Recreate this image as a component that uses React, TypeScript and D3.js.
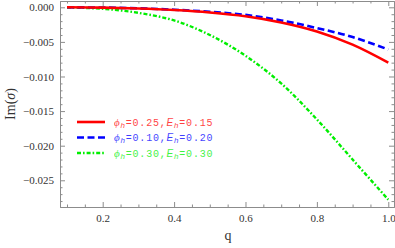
import * as d3 from "d3";
import React, { useRef, useEffect } from "react";

// sampled values of Im(sigma) against q
const qValues = [0.1, 0.2, 0.3, 0.4, 0.5, 0.6, 0.7, 0.8, 0.9, 1.0];
const redValues = [0, -0.00005, -0.00018, -0.0004, -0.00075, -0.0013, -0.0022, -0.0035, -0.0054, -0.008];
const blueValues = [0, -0.00004, -0.00015, -0.00035, -0.00065, -0.0011, -0.0019, -0.003, -0.0043, -0.0061];
const greenValues = [-0.00002, -0.00022, -0.0008, -0.0019, -0.004, -0.007, -0.011, -0.0162, -0.022, -0.0278];

const xTicks = [0.2, 0.4, 0.6, 0.8, 1.0];
const yTicks = [0, -0.005, -0.01, -0.015, -0.02, -0.025];

const legendPhi = ["0.25", "0.10", "0.30"];
const legendE = ["0.15", "0.20", "0.30"];

const App = () => {
  const svgRef = useRef<SVGSVGElement>(null);
  const w = 395;
  const h = 248;
  const left = 60, right = 394, top = 1, bottom = 207;

  useEffect(() => {
    const xScale = d3.scaleLinear().domain([0.0804, 1.016]).range([left, right]);
    const yScale = d3.scaleLinear().domain([0.00091, -0.02886]).range([top, bottom]);

    const svgEl = d3.select(svgRef.current);
    svgEl.selectAll("*").remove();
    const svg = svgEl.append("g");

    // frame axes, ticks point inward like Mathematica
    const xMinor = d3.range(0.1, 1.01, 0.05).map((d) => +d.toFixed(2)).filter((d) => !xTicks.some((t) => Math.abs(t - d) < 1e-6));
    const yMinor = d3.range(0, -0.0286, -0.001).map((d) => +d.toFixed(4)).filter((d) => !yTicks.some((t) => Math.abs(t - d) < 1e-7));
    const frameColor = "#8c8c8c";

    const addAxis = (axis: any, tx: number, ty: number, labels: boolean) => {
      const g = svg.append("g").attr("transform", `translate(${tx},${ty})`).call(axis);
      g.select(".domain").attr("stroke", frameColor).attr("stroke-width", 1);
      g.selectAll(".tick line").attr("stroke", frameColor);
      if (!labels) g.selectAll(".tick text").remove();
      return g;
    };

    const fmtX = (d: any) => d3.format(".1f")(d);
    const fmtY = (d: any) => (d === 0 ? "0.000" : "\u2212" + d3.format(".3f")(-d));

    // bottom
    const gb = addAxis(d3.axisBottom(xScale).tickValues(xTicks).tickFormat(fmtX).tickSize(-5).tickPadding(7), 0, bottom, true);
    gb.selectAll(".tick text").attr("font-family", "Liberation Serif").attr("font-size", 11).attr("fill", "#333");
    addAxis(d3.axisBottom(xScale).tickValues(xMinor).tickSize(-2.5).tickFormat(() => ""), 0, bottom, false).select(".domain").remove();
    // top
    addAxis(d3.axisTop(xScale).tickValues(xTicks).tickSize(-5).tickFormat(() => ""), 0, top, false);
    addAxis(d3.axisTop(xScale).tickValues(xMinor).tickSize(-2.5).tickFormat(() => ""), 0, top, false).select(".domain").remove();
    // left
    const gl = addAxis(d3.axisLeft(yScale).tickValues(yTicks).tickFormat(fmtY).tickSize(-5).tickPadding(6), left, 0, true);
    gl.selectAll(".tick text").attr("font-family", "Liberation Serif").attr("font-size", 11).attr("fill", "#333");
    addAxis(d3.axisLeft(yScale).tickValues(yMinor).tickSize(-2.5).tickFormat(() => ""), left, 0, false).select(".domain").remove();
    // right
    addAxis(d3.axisRight(yScale).tickValues(yTicks).tickSize(-5).tickFormat(() => ""), right, 0, false);
    addAxis(d3.axisRight(yScale).tickValues(yMinor).tickSize(-2.5).tickFormat(() => ""), right, 0, false).select(".domain").remove();

    const series = [
      { values: redValues, color: "#ff0000", dash: "", width: 2.6 },
      { values: blueValues, color: "#0000ff", dash: "7,3.5", width: 2.6 },
      { values: greenValues, color: "#00ee00", dash: "4,2,1.6,2", width: 2.4 },
    ];

    const line = d3
      .line<[number, number]>()
      .x((d) => xScale(d[0]))
      .y((d) => yScale(d[1]))
      .curve(d3.curveCatmullRom.alpha(0.5));

    // green first, then blue, red on top
    [2, 1, 0].forEach((i) => {
      const s = series[i];
      svg
        .append("path")
        .datum(qValues.map((q, j) => [q, s.values[j]] as [number, number]))
        .attr("fill", "none")
        .attr("stroke", s.color)
        .attr("stroke-width", s.width)
        .attr("stroke-dasharray", s.dash)
        .attr("d", line);
    });

    // legend
    const legY = [122, 137.5, 153];
    series.forEach((s, i) => {
      svg
        .append("line")
        .attr("x1", 77)
        .attr("x2", 105)
        .attr("y1", legY[i])
        .attr("y2", legY[i])
        .attr("stroke", s.color)
        .attr("stroke-width", s.width)
        .attr("stroke-dasharray", s.dash);
      const t = svg
        .append("text")
        .attr("x", 114)
        .attr("y", legY[i] + 3.5)
        .attr("font-family", "Liberation Mono")
        .attr("font-size", 10)
        .attr("letter-spacing", 0.8)
        .attr("fill", s.color)
        .attr("opacity", 0.75);
      t.append("tspan").attr("font-style", "italic").attr("font-family", "Liberation Serif").attr("font-size", 11).text("\u03d5");
      t.append("tspan").attr("font-style", "italic").attr("font-family", "Liberation Sans").attr("font-size", 8).attr("dy", 2).text("h");
      t.append("tspan").attr("dy", -2).text("=" + legendPhi[i] + ",");
      t.append("tspan").attr("font-style", "italic").attr("font-family", "Liberation Sans").attr("font-size", 10).text("E");
      t.append("tspan").attr("font-style", "italic").attr("font-family", "Liberation Sans").attr("font-size", 8).attr("dy", 2).text("h");
      t.append("tspan").attr("dy", -2).text("=" + legendE[i]);
    });

    // axis labels
    svg
      .append("text")
      .attr("x", 228)
      .attr("y", 240)
      .attr("text-anchor", "middle")
      .attr("font-family", "Liberation Serif")
      .attr("font-size", 14)
      .attr("fill", "#333")
      .text("q");
    const yl = svg
      .append("text")
      .attr("transform", `translate(15,${(top + bottom) / 2}) rotate(-90)`)
      .attr("text-anchor", "middle")
      .attr("font-family", "Liberation Serif")
      .attr("font-size", 14)
      .attr("fill", "#333");
    yl.append("tspan").text("Im(");
    yl.append("tspan").attr("font-style", "italic").text("\u03c3");
    yl.append("tspan").text(")");
  });

  return (
    <svg
      ref={svgRef}
      width={w}
      height={h}
      style={{ position: "fixed", left: 0, top: 0, background: "#fff" }}
    />
  );
};

export default App;
